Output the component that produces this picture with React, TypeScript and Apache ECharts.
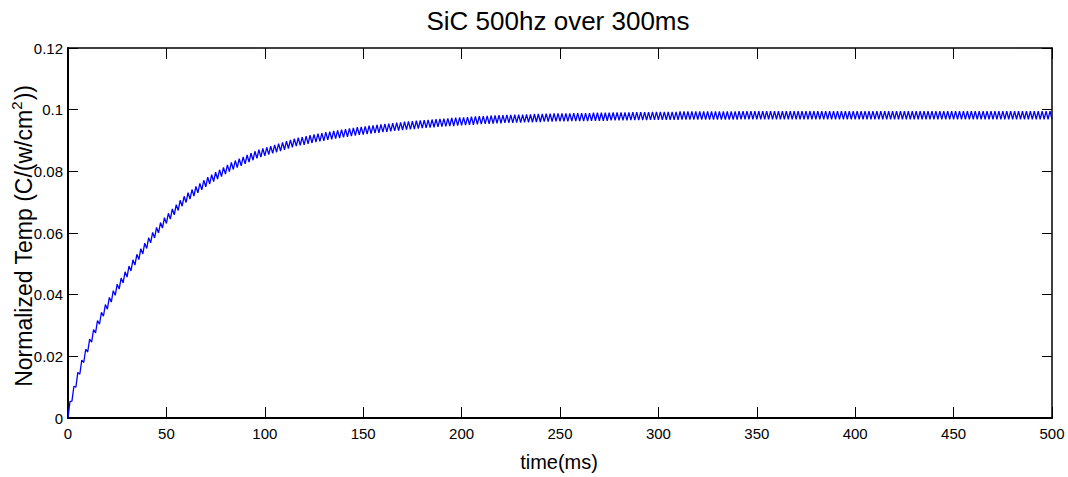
import React, { useEffect, useRef } from "react";
import * as echarts from "echarts";

// Temperature at the end of each off-period (even ms: 0, 2, 4, ... 500)
const troughTemps = [
  0, 0.0055, 0.0100, 0.0142, 0.0180, 0.0214, 0.0246, 0.0276, 0.0304, 0.0330,
  0.0353, 0.0376, 0.0398, 0.0418, 0.0438, 0.0457, 0.0477, 0.0496, 0.0514, 0.0532,
  0.0550, 0.0568, 0.0584, 0.0600, 0.0616, 0.0631, 0.0645, 0.0659, 0.0673, 0.0687,
  0.0699, 0.0710, 0.0720, 0.0730, 0.0740, 0.0750, 0.0759, 0.0767, 0.0775, 0.0783,
  0.0791, 0.0799, 0.0806, 0.0812, 0.0818, 0.0824, 0.0830, 0.0836, 0.0842, 0.0846,
  0.0850, 0.0854, 0.0858, 0.0862, 0.0866, 0.0870, 0.0874, 0.0878, 0.0882, 0.0884,
  0.0886, 0.0889, 0.0892, 0.0895, 0.0897, 0.0899, 0.0902, 0.0904, 0.0906, 0.0908,
  0.0910, 0.0912, 0.0914, 0.0916, 0.0918, 0.0919, 0.0921, 0.0922, 0.0924, 0.0925,
  0.0927, 0.0928, 0.0930, 0.0931, 0.0932, 0.0934, 0.0935, 0.0936, 0.0937, 0.0939,
  0.0940, 0.0941, 0.0942, 0.0943, 0.0944, 0.0945, 0.0946, 0.0947, 0.0947, 0.0948,
  0.0949, 0.0950, 0.0951, 0.0951, 0.0952, 0.0953, 0.0954, 0.0954, 0.0955, 0.0956,
  0.0956, 0.0957, 0.0957, 0.0957, 0.0958, 0.0958, 0.0959, 0.0959, 0.0959, 0.0960,
  0.0960, 0.0961, 0.0961, 0.0961, 0.0962, 0.0962, 0.0962, 0.0962, 0.0963, 0.0963,
  0.0963, 0.0963, 0.0963, 0.0964, 0.0964, 0.0964, 0.0964, 0.0964, 0.0965, 0.0965,
  0.0965, 0.0965, 0.0965, 0.0966, 0.0966, 0.0966, 0.0966, 0.0966, 0.0967, 0.0967,
  0.0967, 0.0967, 0.0967, 0.0967, 0.0967, 0.0967, 0.0968, 0.0968, 0.0968, 0.0968,
  0.0968, 0.0968, 0.0968, 0.0968, 0.0968, 0.0968, 0.0968, 0.0968, 0.0968, 0.0968,
  0.0968, 0.0969, 0.0969, 0.0969, 0.0969, 0.0969, 0.0969, 0.0969, 0.0969, 0.0969,
  0.0969, 0.0969, 0.0969, 0.0969, 0.0969, 0.0969, 0.0969, 0.0969, 0.0969, 0.0969,
  0.0969, 0.0969, 0.0969, 0.0969, 0.0969, 0.0969, 0.0969, 0.0969, 0.0969, 0.0969,
  0.0969, 0.0969, 0.0969, 0.0969, 0.0969, 0.0969, 0.0969, 0.0969, 0.0969, 0.0969,
  0.0969, 0.0969, 0.0969, 0.0969, 0.0969, 0.0969, 0.0969, 0.0969, 0.0969, 0.0969,
  0.0969, 0.0969, 0.0969, 0.0969, 0.0969, 0.0969, 0.0969, 0.0969, 0.0969, 0.0969,
  0.0969, 0.0969, 0.0969, 0.0969, 0.0969, 0.0969, 0.0969, 0.0969, 0.0969, 0.0969,
  0.0969, 0.0969, 0.0969, 0.0969, 0.0969, 0.0969, 0.0969, 0.0969, 0.0969, 0.0969,
  0.0969,
];

// Temperature at the end of each on-pulse (odd ms: 1, 3, 5, ... 499)
const peakTemps = [
  0.0053, 0.0103, 0.0148, 0.0188, 0.0223, 0.0256, 0.0287, 0.0316, 0.0343, 0.0368,
  0.0391, 0.0413, 0.0434, 0.0454, 0.0474, 0.0493, 0.0513, 0.0531, 0.0549, 0.0567,
  0.0585, 0.0602, 0.0618, 0.0634, 0.0650, 0.0664, 0.0678, 0.0692, 0.0706, 0.0719,
  0.0731, 0.0741, 0.0751, 0.0761, 0.0771, 0.0781, 0.0789, 0.0797, 0.0805, 0.0813,
  0.0821, 0.0829, 0.0835, 0.0841, 0.0847, 0.0853, 0.0859, 0.0865, 0.0870, 0.0874,
  0.0878, 0.0882, 0.0886, 0.0890, 0.0894, 0.0898, 0.0902, 0.0906, 0.0909, 0.0911,
  0.0914, 0.0917, 0.0920, 0.0922, 0.0924, 0.0927, 0.0929, 0.0931, 0.0933, 0.0935,
  0.0937, 0.0939, 0.0941, 0.0943, 0.0944, 0.0946, 0.0948, 0.0949, 0.0951, 0.0952,
  0.0954, 0.0955, 0.0956, 0.0958, 0.0959, 0.0961, 0.0962, 0.0963, 0.0964, 0.0965,
  0.0966, 0.0967, 0.0968, 0.0969, 0.0970, 0.0971, 0.0972, 0.0973, 0.0974, 0.0975,
  0.0975, 0.0976, 0.0977, 0.0978, 0.0979, 0.0979, 0.0980, 0.0981, 0.0981, 0.0982,
  0.0982, 0.0983, 0.0983, 0.0984, 0.0984, 0.0984, 0.0985, 0.0985, 0.0986, 0.0986,
  0.0986, 0.0987, 0.0987, 0.0988, 0.0988, 0.0988, 0.0988, 0.0988, 0.0989, 0.0989,
  0.0989, 0.0989, 0.0989, 0.0990, 0.0990, 0.0990, 0.0990, 0.0990, 0.0991, 0.0991,
  0.0991, 0.0991, 0.0991, 0.0992, 0.0992, 0.0992, 0.0992, 0.0992, 0.0993, 0.0993,
  0.0993, 0.0993, 0.0993, 0.0993, 0.0993, 0.0994, 0.0994, 0.0994, 0.0994, 0.0994,
  0.0994, 0.0994, 0.0994, 0.0994, 0.0994, 0.0994, 0.0994, 0.0994, 0.0994, 0.0994,
  0.0995, 0.0995, 0.0995, 0.0995, 0.0995, 0.0995, 0.0995, 0.0995, 0.0995, 0.0995,
  0.0995, 0.0995, 0.0995, 0.0995, 0.0995, 0.0995, 0.0995, 0.0995, 0.0995, 0.0995,
  0.0995, 0.0995, 0.0995, 0.0995, 0.0995, 0.0995, 0.0995, 0.0995, 0.0995, 0.0995,
  0.0995, 0.0995, 0.0995, 0.0995, 0.0995, 0.0995, 0.0995, 0.0995, 0.0995, 0.0995,
  0.0995, 0.0995, 0.0995, 0.0995, 0.0995, 0.0995, 0.0995, 0.0995, 0.0995, 0.0995,
  0.0995, 0.0995, 0.0995, 0.0995, 0.0995, 0.0995, 0.0995, 0.0995, 0.0995, 0.0995,
  0.0995, 0.0995, 0.0995, 0.0995, 0.0995, 0.0995, 0.0995, 0.0995, 0.0995, 0.0995,
  0.0995, 0.0995, 0.0995, 0.0995, 0.0995, 0.0995, 0.0995, 0.0995, 0.0995, 0.0995,
];

const sampleStepMs = 1;
const xAxisRange = [0, 500];
const xTickStep = 50;
const yAxisRange = [0, 0.12];
const yTickStep = 0.02;

const titleText = "SiC 500hz over 300ms";
const xAxisTitle = "time(ms)";

const tickFont = '"Liberation Sans Narrow", "Arial Narrow", "Liberation Sans", Arial, sans-serif';
const textFont = '"Liberation Sans", Arial, Helvetica, sans-serif';

export default function App() {
  const ref = useRef<HTMLDivElement>(null);

  useEffect(() => {
    if (!ref.current) return;
    const chart = echarts.init(ref.current, undefined, { renderer: "svg" });

    const seriesData: [number, number][] = [];
    const total = troughTemps.length + peakTemps.length;
    for (let i = 0; i < total; i++) {
      const v = i % 2 === 0 ? troughTemps[i / 2] : peakTemps[(i - 1) / 2];
      seriesData.push([i * sampleStepMs, v]);
    }

    const tickStyle = { color: "#000", width: 1 };

    chart.setOption({
      animation: false,
      backgroundColor: "#fff",
      grid: { left: 68, right: 16, top: 48, bottom: 59, containLabel: false },
      xAxis: [
        {
          type: "value",
          position: "bottom",
          min: xAxisRange[0],
          max: xAxisRange[1],
          interval: xTickStep,
          splitLine: { show: false },
          axisLine: { show: true, onZero: false, lineStyle: { color: "#000", width: 2 } },
          axisTick: { show: true, inside: true, length: 11, lineStyle: tickStyle },
          axisLabel: { show: true, margin: 8, color: "#000", fontSize: 15, fontFamily: tickFont },
        },
        {
          type: "value",
          position: "top",
          min: xAxisRange[0],
          max: xAxisRange[1],
          interval: xTickStep,
          splitLine: { show: false },
          axisLine: { show: true, onZero: false, lineStyle: { color: "#000", width: 1.5 } },
          axisTick: { show: true, inside: true, length: 11, lineStyle: tickStyle },
          axisLabel: { show: false },
        },
      ],
      yAxis: [
        {
          type: "value",
          position: "left",
          min: yAxisRange[0],
          max: yAxisRange[1],
          interval: yTickStep,
          splitLine: { show: false },
          axisLine: { show: true, onZero: false, lineStyle: { color: "#000", width: 2 } },
          axisTick: { show: true, inside: true, length: 10, lineStyle: tickStyle },
          axisLabel: {
            show: true,
            margin: 5,
            color: "#000",
            fontSize: 15,
            fontFamily: tickFont,
            formatter: (v: number) => String(parseFloat(v.toFixed(2))),
          },
        },
        {
          type: "value",
          position: "right",
          min: yAxisRange[0],
          max: yAxisRange[1],
          interval: yTickStep,
          splitLine: { show: false },
          axisLine: { show: true, onZero: false, lineStyle: { color: "#000", width: 1.5 } },
          axisTick: { show: true, inside: true, length: 10, lineStyle: tickStyle },
          axisLabel: { show: false },
        },
      ],
      graphic: [
        {
          type: "text",
          x: 558,
          y: 21,
          style: {
            text: titleText,
            fill: "#000",
            font: `26px ${textFont}`,
            textAlign: "center",
            textVerticalAlign: "middle",
          },
        },
        {
          type: "text",
          x: 559,
          y: 462,
          style: {
            text: xAxisTitle,
            fill: "#000",
            font: `20px ${textFont}`,
            textAlign: "center",
            textVerticalAlign: "middle",
          },
        },
        {
          type: "text",
          x: 22,
          y: 236,
          rotation: Math.PI / 2,
          style: {
            text: "{m|Normalized Temp (C/(w/cm}{s|2}{m|))}",
            fill: "#000",
            align: "center",
            verticalAlign: "middle",
            rich: {
              m: { fontSize: 23, fontFamily: textFont, fill: "#000", lineHeight: 27, verticalAlign: "bottom" },
              s: { fontSize: 15, fontFamily: textFont, fill: "#000", lineHeight: 27, verticalAlign: "top", padding: [0, 1, 10, 0] },
            },
          },
        },
      ],
      series: [
        {
          type: "line",
          xAxisIndex: 0,
          yAxisIndex: 0,
          data: seriesData,
          showSymbol: false,
          symbol: "none",
          lineStyle: { color: "#0000ff", width: 1.3 },
          silent: true,
        },
      ],
    });

    return () => {
      chart.dispose();
    };
  }, []);

  return (
    <div
      ref={ref}
      style={{ position: "absolute", left: 0, top: 0, width: 1068, height: 477, background: "#fff" }}
    />
  );
}
